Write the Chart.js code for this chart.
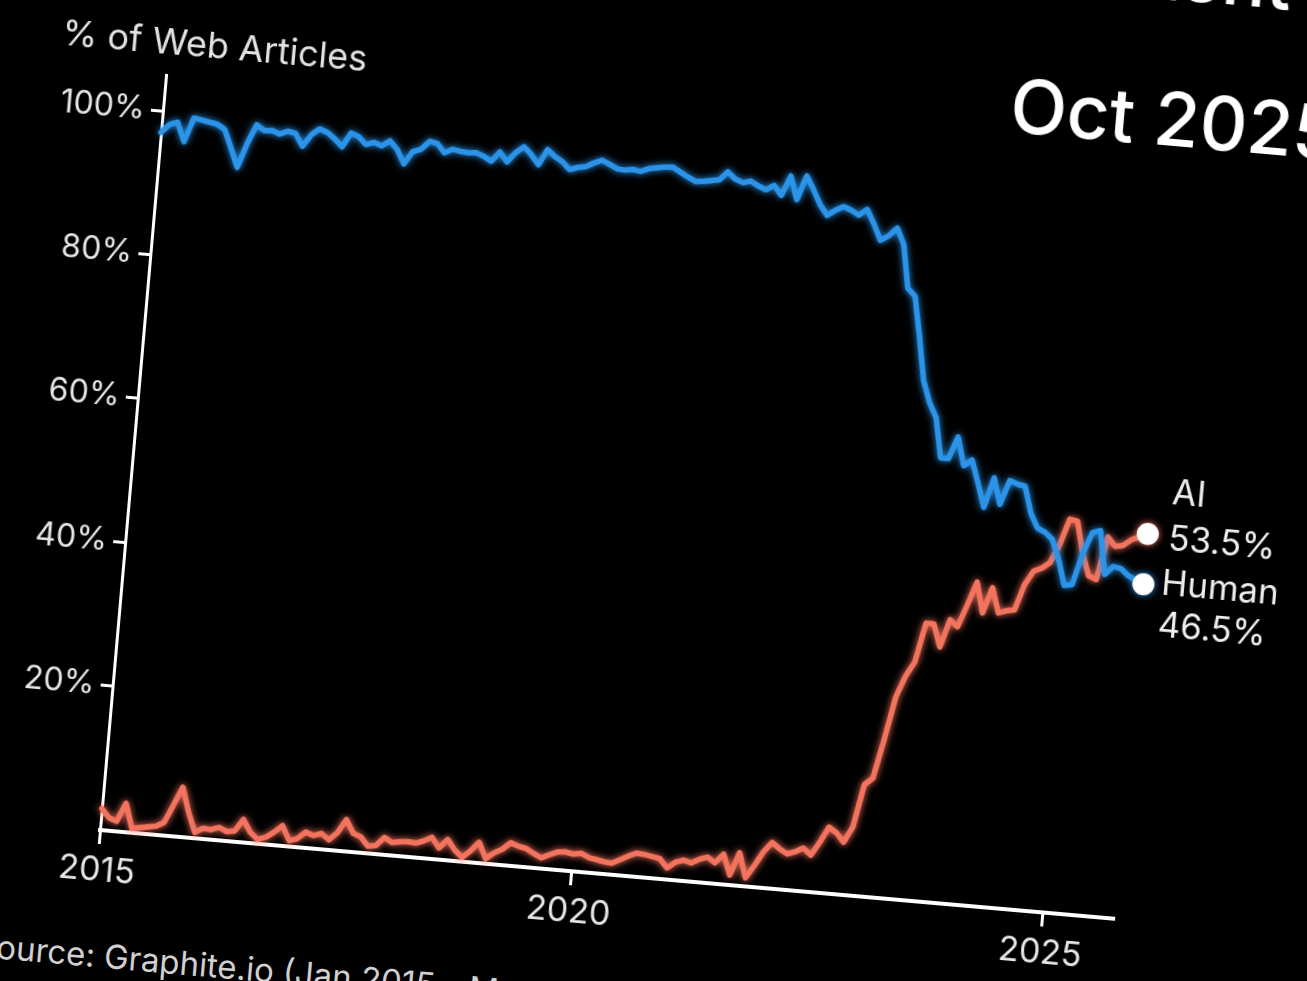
<!DOCTYPE html>
<html>
<head>
<meta charset="utf-8">
<title>AI vs Human Content</title>
<script src="https://cdn.jsdelivr.net/npm/chart.js@4.4.1/dist/chart.umd.min.js"></script>
<style>
  html, body { margin:0; padding:0; background:#000; width:1307px; height:981px; overflow:hidden; }
  #board { position:absolute; left:-60px; top:-88px; width:1418px; height:1018px;
           transform-origin:160px 918px; transform:rotate(5deg);
           font-family:Inter, 'Noto Sans', sans-serif; color:#eee; }
  #board canvas { position:absolute; left:0; top:0; }
  .txt { position:absolute; white-space:nowrap; line-height:1; }
  #head { right:144px; top:-67px; font-size:74px; font-weight:500; color:#fff; }
  #date { left:1004px; top:79px; font-size:74px; font-weight:500; color:#fff; }
  #ylab { left:53px; top:108px; font-size:36px; color:#e2e2e2; }
  #src  { left:46px; top:1027px; font-size:33px; color:#d0d0d0; }
</style>
</head>
<body>
<div id="board">
  <canvas id="mycanvas" width="1418" height="1018"></canvas>
  <div class="txt" id="head">AI vs Human Content</div>
  <div class="txt" id="date">Oct 2025</div>
  <div class="txt" id="ylab">% of Web Articles</div>
  <div class="txt" id="src">Source: Graphite.io (Jan 2015 - May 2025)</div>
</div>
<script>
// monthly points, Jan 2015 .. Oct 2025
var years = [2015, 2016, 2017, 2018, 2019, 2020, 2021, 2022, 2023, 2024, 2025];
var monthNames = ['Jan','Feb','Mar','Apr','May','Jun','Jul','Aug','Sep','Oct','Nov','Dec'];
var lastMonthOf2025 = 10;
var tickYears = ['2015', '2020', '2025'];

var months = [];
for (var y = 0; y < years.length; y++) {
  var n = (years[y] === 2025) ? lastMonthOf2025 : 12;
  for (var m = 0; m < n; m++) months.push(monthNames[m] + ' ' + years[y]);
}

// share of web articles, %
var ai = [
  3.0, 1.8, 1.4, 4.0, 0.6, 0.8, 1.0, 1.2, 1.8, 4.3,
  6.9, 3.5, 0.8, 1.5, 1.4, 1.8, 1.3, 1.5, 3.2, 1.5,
  0.6, 1.0, 1.8, 2.8, 0.8, 1.2, 2.2, 1.8, 2.2, 1.4,
  2.5, 4.4, 2.6, 2.2, 1.0, 1.2, 2.4, 1.8, 2.0, 2.1,
  2.0, 2.4, 3.0, 1.6, 2.9, 1.5, 0.6, 1.6, 2.9, 0.7,
  1.6, 2.2, 3.2, 2.8, 2.6, 2.0, 1.5, 2.0, 2.5, 2.6,
  2.4, 2.6, 2.1, 1.9, 1.7, 1.6, 2.2, 2.8, 3.3, 3.2,
  3.0, 2.8, 1.6, 2.5, 2.9, 2.6, 3.2, 3.6, 2.9, 4.2,
  1.4, 4.6, 1.2, 3.0, 5.0, 6.4, 5.6, 5.0, 5.4, 6.0,
  5.1, 7.0, 9.2, 8.5, 7.3, 9.5, 15.5, 16.5, 22.0, 28.0,
  31.0, 33.0, 38.5, 38.5, 35.4, 39.3, 38.4, 41.5, 44.8, 40.6,
  44.2, 40.8, 41.2, 41.4, 45.0, 47.0, 47.5, 48.4, 51.0, 54.6,
  54.4, 50.0, 47.0, 46.6, 52.6, 51.4, 51.6, 52.5, 53.0, 53.5
];
var human = [
  97.0, 98.2, 98.6, 96.0, 99.4, 99.2, 99.0, 98.8, 98.2, 95.7,
  93.1, 96.5, 99.2, 98.5, 98.6, 98.2, 98.7, 98.5, 96.8, 98.5,
  99.4, 99.0, 98.2, 97.2, 99.2, 98.8, 97.8, 98.2, 97.8, 98.6,
  97.5, 95.6, 97.4, 97.8, 99.0, 98.8, 97.6, 98.2, 98.0, 97.9,
  98.0, 97.6, 97.0, 98.4, 97.1, 98.5, 99.4, 98.4, 97.1, 99.3,
  98.4, 97.8, 96.8, 97.2, 97.4, 98.0, 98.5, 98.0, 97.5, 97.4,
  97.6, 97.4, 97.9, 98.1, 98.3, 98.4, 97.8, 97.2, 96.7, 96.8,
  97.0, 97.2, 98.4, 97.5, 97.1, 97.4, 96.8, 96.4, 97.1, 95.8,
  98.6, 95.4, 98.8, 97.0, 95.0, 93.6, 94.4, 95.0, 94.6, 94.0,
  94.9, 93.0, 90.8, 91.5, 92.7, 90.5, 84.5, 83.5, 78.0, 72.0,
  69.0, 67.0, 61.5, 61.5, 64.6, 60.7, 61.6, 58.5, 55.2, 59.4,
  55.8, 59.2, 58.8, 58.6, 55.0, 53.0, 52.5, 51.6, 49.0, 45.4,
  45.6, 50.0, 53.0, 53.4, 47.4, 48.6, 48.4, 47.5, 47.0, 46.5
];

var BLUE = '#2b93e8';
var RED  = '#f2735e';

function yearTick(i) {
  var lab = months[i];
  if (!lab || lab.indexOf('Jan ') !== 0) return '';
  var yr = lab.slice(4);
  return tickYears.indexOf(yr) >= 0 ? yr : '';
}

function endDot(ctx) {
  return ctx.dataIndex === months.length - 1 ? 11 : 0;
}

// soft glow like the screen photo
var glow = {
  id: 'glow',
  beforeDatasetDraw: function(chart, args) {
    var ds = chart.data.datasets[args.index];
    chart.ctx.save();
    chart.ctx.shadowColor = ds.borderColor;
    chart.ctx.shadowBlur = 7;
  },
  afterDatasetDraw: function(chart) {
    chart.ctx.restore();
  }
};

// "AI 53.5%" / "Human 46.5%" next to the last points
var endLabels = {
  id: 'endLabels',
  afterDatasetsDraw: function(chart) {
    var ctx = chart.ctx;
    ctx.save();
    ctx.fillStyle = '#eeeeee';
    ctx.font = '35px Inter';
    ctx.textBaseline = 'middle';
    ctx.textAlign = 'left';
    chart.data.datasets.forEach(function(ds, i) {
      var meta = chart.getDatasetMeta(i);
      var pt = meta.data[meta.data.length - 1];
      var val = ds.data[ds.data.length - 1].toFixed(1) + '%';
      if (ds.label === 'AI') {
        ctx.fillText('AI', pt.x + 21, pt.y - 42);
        ctx.fillText(val, pt.x + 21, pt.y + 4);
      } else {
        ctx.fillText('Human', pt.x + 18, pt.y - 2);
        ctx.fillText(val, pt.x + 18, pt.y + 40);
      }
    });
    ctx.restore();
  }
};

var ctx = document.getElementById('mycanvas');

var LineGraph = new Chart(ctx, {
  type: 'line',
  data: {
    labels: months,
    datasets: [
      {
        label: 'Human',
        data: human,
        borderColor: BLUE,
        backgroundColor: BLUE,
        borderWidth: 5.5,
        tension: 0,
        fill: false,
        clip: false,
        borderJoinStyle: 'round',
        borderCapStyle: 'round',
        pointRadius: endDot,
        pointHoverRadius: endDot,
        pointBackgroundColor: '#ffffff',
        pointBorderWidth: 0
      },
      {
        label: 'AI',
        data: ai,
        borderColor: RED,
        backgroundColor: RED,
        borderWidth: 5.5,
        tension: 0,
        fill: false,
        clip: false,
        borderJoinStyle: 'round',
        borderCapStyle: 'round',
        pointRadius: endDot,
        pointHoverRadius: endDot,
        pointBackgroundColor: '#ffffff',
        pointBorderWidth: 0
      }
    ]
  },
  options: {
    responsive: false,
    animation: false,
    events: [],
    layout: { padding: { left: 40, top: 160, right: 240, bottom: 20 } },
    plugins: {
      legend: { display: false },
      tooltip: { enabled: false }
    },
    scales: {
      x: {
        type: 'category',
        offset: false,
        afterFit: function(scale) { scale.height = 80; },
        border: { display: true, color: '#ffffff', width: 4 },
        grid: {
          drawOnChartArea: false,
          drawTicks: true,
          tickLength: 14,
          tickWidth: 3,
          tickColor: function(c) { return yearTick(c.index) ? '#ffffff' : 'rgba(0,0,0,0)'; }
        },
        ticks: {
          autoSkip: false,
          maxRotation: 0,
          minRotation: 0,
          padding: 6,
          color: '#e6e6e6',
          font: { family: 'Inter', size: 34 },
          callback: function(value, index) { return yearTick(index); }
        }
      },
      y: {
        min: 0,
        max: 105,
        afterFit: function(scale) { scale.width = 120; },
        border: { display: true, color: '#ffffff', width: 3 },
        grid: {
          drawOnChartArea: false,
          drawTicks: true,
          tickLength: 12,
          tickWidth: 3,
          tickColor: function(c) { return (c.tick && c.tick.value > 0) ? '#ffffff' : 'rgba(0,0,0,0)'; }
        },
        ticks: {
          stepSize: 20,
          includeBounds: false,
          padding: 6,
          color: '#e6e6e6',
          font: { family: 'Inter', size: 32 },
          callback: function(v) { return v === 0 ? '' : v + '%'; }
        }
      }
    }
  },
  plugins: [glow, endLabels]
});
</script>
</body>
</html>
